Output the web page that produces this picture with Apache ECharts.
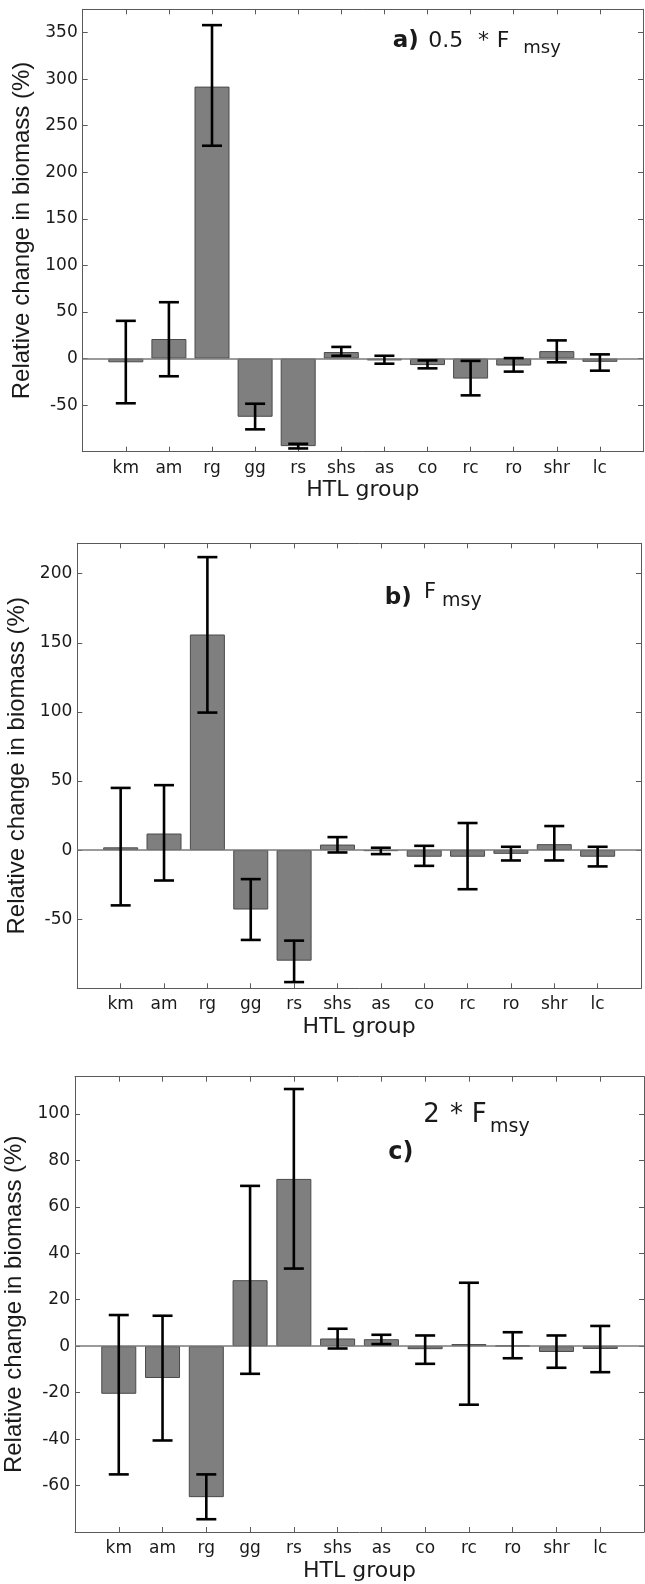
<!DOCTYPE html>
<html>
<head>
<meta charset="utf-8">
<script src="https://cdn.jsdelivr.net/npm/echarts@6/dist/echarts.min.js"></script>
<style>
  html, body { margin: 0; padding: 0; background: #fff; }
  #chart { width: 645px; height: 1584px; }
</style>
</head>
<body>
<div id="chart"></div>
<script>
// ---- Data ----
const groups = ['km', 'am', 'rg', 'gg', 'rs', 'shs', 'as', 'co', 'rc', 'ro', 'shr', 'lc'];

// a) 0.5 * Fmsy
const meanA = [-4, 21, 292, -62.5, -94, 7, -2, -7, -21.5, -7.5, 8, -3.5];
const lowA  = [-48, -19, 228.5, -76, -96.5, 3, -5.5, -10.5, -39.5, -14, -4, -13];
const highA = [40.5, 60.5, 358, -48.5, -91.5, 12.5, 3, -2, -2.5, 0.5, 19.5, 4.5];
const ticksA = [-50, 0, 50, 100, 150, 200, 250, 300, 350];

// b) Fmsy
const meanB = [2, 12, 156, -43, -80, 4, -0.7, -4.8, -4.8, -2.7, 4.3, -4.8];
const lowB  = [-40, -22, 99.5, -65, -95.5, -1.7, -2.9, -11.4, -28.3, -7.5, -7.5, -11.8];
const highB = [45, 47, 212, -21, -65.5, 9.4, 1.7, 3.1, 19.6, 2.4, 17.4, 2.4];
const ticksB = [-50, 0, 50, 100, 150, 200];

// c) 2 * Fmsy
const meanC = [-20.5, -13.7, -65, 28.4, 72, 3.3, 3, -1.3, 0.9, 0.2, -2.5, -1.2];
const lowC  = [-55.2, -40.6, -74.5, -11.9, 33.4, -1, 0.9, -7.6, -25.2, -5.2, -9.3, -11.2];
const highC = [13.4, 13.1, -55.2, 69, 110.7, 7.5, 4.9, 4.6, 27.3, 6, 4.6, 8.7];
const ticksC = [-60, -40, -20, 0, 20, 40, 60, 80, 100];

const yTitle = 'Relative change in biomass (%)';
const xTitle = 'HTL group';

// ---- Layout ----
const panels = [
  { mean: meanA, low: lowA, high: highA, ticks: ticksA, min: -100, max: 375, step: 50,
    grid: { left: 82.7, top: 9.3, width: 560.3, height: 442.4 }, nameGap: 42 },
  { mean: meanB, low: lowB, high: highB, ticks: ticksB, min: -100, max: 222, step: 50,
    grid: { left: 77.3, top: 543.3, width: 563.7, height: 445 }, nameGap: 41 },
  { mean: meanC, low: lowC, high: highC, ticks: ticksC, min: -80, max: 116, step: 20,
    grid: { left: 75, top: 1076.7, width: 569, height: 455.3 }, nameGap: 43 }
];

const FRAME = '#5a5a5a';
const TXT = '#1a1a1a';
const tickFont = 'DejaVu Sans';

const grids = [], xAxes = [], yAxes = [], series = [];

panels.forEach((p, i) => {
  grids.push(Object.assign({ outerBoundsMode: 'none', containLabel: false }, p.grid));
  const xi = xAxes.length, yi = yAxes.length;
  // bottom x axis (labels)
  xAxes.push({
    type: 'value', gridIndex: i, min: 0, max: 13, interval: 1, position: 'bottom',
    name: xTitle, nameLocation: 'middle', nameGap: 28,
    nameTextStyle: { fontFamily: tickFont, fontSize: 22, color: TXT },
    axisLine: { show: true, onZero: false, lineStyle: { color: FRAME, width: 1 } },
    axisTick: { show: true, inside: true, length: 5, lineStyle: { color: FRAME } },
    axisLabel: { margin: 8, fontFamily: tickFont, fontSize: 17, color: TXT,
      formatter: v => groups[v - 1] || '' },
    splitLine: { show: false }
  });
  // top x axis (frame + ticks)
  xAxes.push({
    type: 'value', gridIndex: i, min: 0, max: 13, interval: 1, position: 'top',
    axisLine: { show: true, onZero: false, lineStyle: { color: FRAME, width: 1 } },
    axisTick: { show: true, inside: true, length: 5, lineStyle: { color: FRAME } },
    axisLabel: { show: false }, splitLine: { show: false }
  });
  yAxes.push({
    type: 'value', gridIndex: i, min: p.min, max: p.max, interval: p.step, position: 'left',
    name: yTitle, nameLocation: 'middle', nameGap: p.nameGap, nameRotate: 90,
    nameTextStyle: { fontFamily: 'Liberation Sans', fontSize: 24, color: TXT },
    axisLine: { show: true, onZero: false, lineStyle: { color: FRAME, width: 1 } },
    axisTick: { show: true, inside: true, length: 5, lineStyle: { color: FRAME } },
    axisLabel: { margin: 5, fontFamily: tickFont, fontSize: 17, color: TXT,
      formatter: v => (p.ticks.indexOf(v) >= 0 ? String(v) : '') },
    splitLine: { show: false }
  });
  yAxes.push({
    type: 'value', gridIndex: i, min: p.min, max: p.max, interval: p.step, position: 'right',
    axisLine: { show: true, onZero: false, lineStyle: { color: FRAME, width: 1 } },
    axisTick: { show: true, inside: true, length: 5, lineStyle: { color: FRAME } },
    axisLabel: { show: false }, splitLine: { show: false }
  });

  series.push({
    type: 'bar', xAxisIndex: xi, yAxisIndex: yi, barWidth: 35, z: 2,
    data: p.mean.map((v, k) => [k + 1, v]),
    itemStyle: { color: '#7f7f7f', borderColor: '#4a4a4a', borderWidth: 1 },
    markLine: {
      silent: true, symbol: 'none', label: { show: false }, z: 3,
      lineStyle: { color: '#7a7a7a', width: 1.5, type: 'solid' },
      data: [{ yAxis: 0 }]
    }
  });
  series.push({
    type: 'custom', xAxisIndex: xi, yAxisIndex: yi, z: 5,
    data: p.mean.map((v, k) => [k + 1, p.low[k], p.high[k]]),
    encode: { x: 0, y: [1, 2] },
    renderItem: function (params, api) {
      const x = api.value(0);
      const lo = api.coord([x, api.value(1)]);
      const hi = api.coord([x, api.value(2)]);
      const hw = 10;
      const st = { stroke: '#000', lineWidth: 2.6 };
      return {
        type: 'group',
        children: [
          { type: 'line', shape: { x1: lo[0], y1: lo[1], x2: hi[0], y2: hi[1] }, style: st },
          { type: 'line', shape: { x1: hi[0] - hw, y1: hi[1], x2: hi[0] + hw, y2: hi[1] }, style: st },
          { type: 'line', shape: { x1: lo[0] - hw, y1: lo[1], x2: lo[0] + hw, y2: lo[1] }, style: st }
        ]
      };
    }
  });
});

function txt(text, x, y, size, bold, family) {
  return {
    type: 'text', x: x, y: y, z: 100,
    style: {
      text: text, fill: TXT, align: 'left', verticalAlign: 'middle',
      font: (bold ? 'bold ' : '') + size + 'px "' + (family || 'DejaVu Sans') + '"'
    }
  };
}

const graphic = [
  // a)
  txt('a)', 392.7, 41.3, 23, true),
  txt('0.5', 428.3, 41.1, 22, false),
  txt('*', 478, 41.1, 22, false),
  txt('F', 496.7, 41.1, 22, false),
  txt('msy', 523.3, 48.5, 18, false),
  // b)
  txt('b)', 384.8, 597.8, 23, true),
  txt('F', 424, 592.7, 21, false),
  txt('msy', 442, 601.4, 19, false),
  // c)
  txt('2', 423.3, 1115.3, 26, false),
  txt('*', 450, 1115.3, 26, false),
  txt('F', 471.7, 1115.3, 26, false),
  txt('msy', 490, 1126.7, 19, false),
  txt('c)', 388.3, 1153, 24, true)
];

const chart = echarts.init(document.getElementById('chart'), null, { renderer: 'canvas' });
chart.setOption({
  animation: false,
  backgroundColor: '#ffffff',
  grid: grids,
  xAxis: xAxes,
  yAxis: yAxes,
  series: series,
  graphic: graphic
});
</script>
</body>
</html>
